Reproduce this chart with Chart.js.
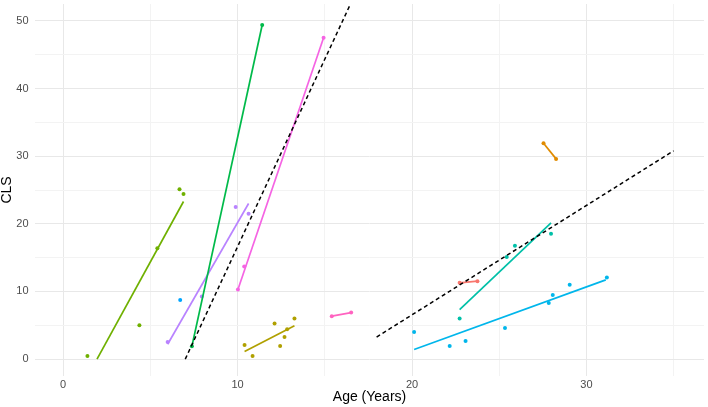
<!DOCTYPE html>
<html>
<head>
<meta charset="utf-8">
<script src="https://cdn.jsdelivr.net/npm/chart.js@4.4.1/dist/chart.umd.min.js"></script>
<style>
  html, body { margin: 0; padding: 0; background: #fff; }
  #wrap { width: 708px; height: 407px; }
</style>
</head>
<body>
<div id="wrap"><canvas id="chart"></canvas></div>
<script>
// axes
const xTicks = [0, 5, 10, 15, 20, 25, 30, 35];
const xLabels = ["0", "", "10", "", "20", "", "30", ""];
const yTicks = [0, 5, 10, 15, 20, 25, 30, 35, 40, 45, 50];
const yLabels = ["0", "", "10", "", "20", "", "30", "", "40", "", "50"];

// points par groupe (Age, CLS) + droite de tendance (extrémités)
const redAge = [22.73, 23.75];
const redCls = [11.27, 11.52];

const orangeAge = [27.54, 28.26];
const orangeCls = [31.9, 29.6];

const oliveAge = [10.4, 10.86, 12.12, 12.44, 12.69, 12.84, 13.26];
const oliveCls = [2.1, 0.46, 5.27, 1.95, 3.27, 4.4, 6.0];
const oliveFitAge = [10.4, 13.26];
const oliveFitCls = [1.12, 4.93];

const limeAge = [1.39, 4.37, 5.4, 6.67, 6.9];
const limeCls = [0.44, 5.0, 16.4, 25.1, 24.4];
const limeFitAge = [1.94, 6.9];
const limeFitCls = [0, 23.3];

const greenAge = [7.38, 11.41];
const greenCls = [1.9, 49.4];

const tealAge = [22.73, 25.43, 25.9, 27.97];
const tealCls = [6.0, 15.08, 16.74, 18.55];
const tealFitAge = [22.73, 27.97];
const tealFitCls = [7.3, 20.15];

const cyanAge = [20.12, 22.16, 23.07, 25.33, 27.84, 28.07, 29.04, 31.17];
const cyanCls = [4.0, 1.95, 2.68, 4.58, 8.3, 9.47, 10.98, 12.05];
const cyanFitAge = [20.12, 31.11];
const cyanFitCls = [1.42, 11.71];

const blueAge = [6.71];
const blueCls = [8.74];

const purpleAge = [5.99, 7.95, 9.89, 10.63];
const purpleCls = [2.53, 9.27, 22.5, 21.5];
const purpleFitAge = [5.99, 10.63];
const purpleFitCls = [2.2, 23.0];

const magentaAge = [10.02, 10.38, 14.93];
const magentaCls = [10.3, 13.7, 47.5];

const pinkAge = [15.4, 16.51];
const pinkCls = [6.34, 6.88];

// droites en pointillés
const dash1Age = [7.0, 16.49];
const dash1Cls = [0, 52.6];
const dash2Age = [17.97, 35.0];
const dash2Cls = [3.26, 30.8];

function pts(xs, ys) {
  return xs.map((x, i) => ({ x: x, y: ys[i] }));
}

function points(xs, ys, color) {
  return {
    data: pts(xs, ys),
    showLine: false,
    pointRadius: 2,
    pointBackgroundColor: color,
    pointBorderWidth: 0,
  };
}

function line(xs, ys, color) {
  return {
    data: pts(xs, ys),
    showLine: true,
    borderColor: color,
    borderWidth: 1.7,
    pointRadius: 0,
    fill: false,
  };
}

function dashed(xs, ys) {
  return {
    data: pts(xs, ys),
    showLine: true,
    borderColor: "#000000",
    borderWidth: 1.5,
    borderDash: [4, 3],
    pointRadius: 0,
    fill: false,
  };
}

const c = {
  red: "#F8766D",
  orange: "#E08B00",
  olive: "#B0A000",
  lime: "#6FB000",
  green: "#00BA4A",
  teal: "#00C0A8",
  cyan: "#00B6EB",
  blue: "#00A5FF",
  purple: "#B983FF",
  magenta: "#F564E3",
  pink: "#FF63C0",
};

const datasets = [
  dashed(dash1Age, dash1Cls),
  dashed(dash2Age, dash2Cls),
  line(redAge, redCls, c.red),
  line(orangeAge, orangeCls, c.orange),
  line(oliveFitAge, oliveFitCls, c.olive),
  line(limeFitAge, limeFitCls, c.lime),
  line(greenAge, greenCls, c.green),
  line(tealFitAge, tealFitCls, c.teal),
  line(cyanFitAge, cyanFitCls, c.cyan),
  line(purpleFitAge, purpleFitCls, c.purple),
  line(magentaAge.filter((v, i) => i !== 1), magentaCls.filter((v, i) => i !== 1), c.magenta),
  line(pinkAge, pinkCls, c.pink),
  points(redAge, redCls, c.red),
  points(orangeAge, orangeCls, c.orange),
  points(oliveAge, oliveCls, c.olive),
  points(limeAge, limeCls, c.lime),
  points(greenAge, greenCls, c.green),
  points(tealAge, tealCls, c.teal),
  points(cyanAge, cyanCls, c.cyan),
  points(blueAge, blueCls, c.blue),
  points(purpleAge, purpleCls, c.purple),
  points(magentaAge, magentaCls, c.magenta),
  points(pinkAge, pinkCls, c.pink),
];

function gridColor(ctx) {
  return ctx.tick && ctx.tick.value % 10 === 0 ? "#e8e8e8" : "#f3f3f3";
}

new Chart(document.getElementById("chart"), {
  type: "scatter",
  data: { datasets: datasets },
  options: {
    responsive: true,
    maintainAspectRatio: false,
    animation: false,
    layout: { padding: { top: 0, right: 1, bottom: 0, left: 0 } },
    plugins: {
      legend: { display: false },
      tooltip: { enabled: false },
    },
    scales: {
      x: {
        type: "linear",
        min: -1.615,
        max: 36.74,
        border: { display: false },
        grid: { color: gridColor, lineWidth: 1, drawTicks: false },
        afterBuildTicks: (scale) => {
          scale.ticks = xTicks.map((v) => ({ value: v }));
        },
        ticks: {
          padding: 2,
          color: "#4d4d4d",
          font: { family: "Liberation Sans, Arial, sans-serif", size: 11 },
          callback: (v, i) => xLabels[i],
        },
        title: {
          display: true,
          text: "Age (Years)",
          color: "#000",
          font: { family: "Liberation Sans, Arial, sans-serif", size: 14, lineHeight: 1 },
          padding: { top: 0, bottom: 2.4 },
        },
        afterFit: (scale) => {
          scale.height = 31;
          scale.paddingLeft = 0;
          scale.paddingRight = 0;
        },
      },
      y: {
        type: "linear",
        min: -2.5,
        max: 52.5,
        border: { display: false },
        grid: { color: gridColor, lineWidth: 1, drawTicks: false },
        afterBuildTicks: (scale) => {
          scale.ticks = yTicks.map((v) => ({ value: v }));
        },
        ticks: {
          padding: 6.5,
          color: "#4d4d4d",
          font: { family: "Liberation Sans, Arial, sans-serif", size: 11 },
          callback: (v, i) => yLabels[i],
        },
        title: {
          display: true,
          text: "CLS",
          color: "#000",
          font: { family: "Liberation Sans, Arial, sans-serif", size: 14, lineHeight: 1 },
          padding: { top: 0.3, bottom: 0 },
        },
        afterFit: (scale) => {
          scale.width = 35;
          scale.paddingTop = 0;
          scale.paddingBottom = 0;
        },
      },
    },
  },
});
</script>
</body>
</html>
